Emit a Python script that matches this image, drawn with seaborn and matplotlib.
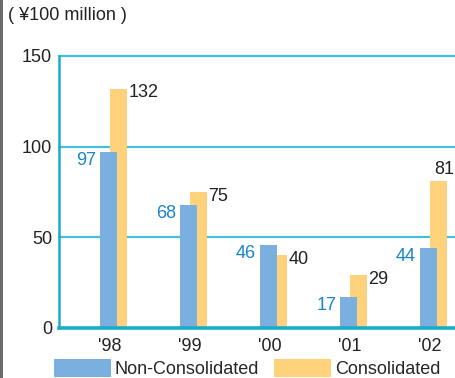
import matplotlib
matplotlib.use("Agg")
import matplotlib.pyplot as plt
from matplotlib.patches import Rectangle, Patch
import seaborn as sns
import pandas as pd
import numpy as np

years = ["'98", "'99", "'00", "'01", "'02"]
non_consolidated = [97, 68, 46, 17, 44]
consolidated = [132, 75, 40, 29, 81]
y_ticks = [0, 50, 100, 150]
unit_label = "( ¥100 million )"

BLUE = "#7aafdf"
ORANGE = "#fed27a"
BLUE_TEXT = "#1a84c8"
GRID = "#45c0da"
SPINE = "#1aacca"
FS = 13

sns.set_theme(style="white")
plt.rcParams["font.family"] = ["Liberation Sans", "DejaVu Sans"]

W, H = 455, 378
fig = plt.figure(figsize=(W / 100, H / 100), dpi=100)
ax = fig.add_axes([59 / W, 50 / H, 1 - 59 / W, (328 - 56) / H])

idx = np.arange(len(years))
bar_w = 0.2125
df_c = pd.DataFrame({"x": idx + 0.106, "v": consolidated})
df_n = pd.DataFrame({"x": idx - 0.019, "v": non_consolidated})

sns.barplot(data=df_c, x="x", y="v", native_scale=True, width=bar_w,
            color=ORANGE, saturation=1, linewidth=0, ax=ax, zorder=2)
sns.barplot(data=df_n, x="x", y="v", native_scale=True, width=bar_w,
            color=BLUE, saturation=1, linewidth=0, ax=ax, zorder=3)

ax.set_xlim(-0.64, 4.31)
ax.set_ylim(0, 150)
ax.set_yticks(y_ticks)
ax.set_xticks(idx)
ax.set_xticklabels(years)
ax.set_xlabel("")
ax.set_ylabel("")
ax.tick_params(axis="both", length=0, labelsize=FS, colors="#222222")
ax.tick_params(axis="x", pad=7)
ax.tick_params(axis="y", pad=5)

for y in y_ticks[1:]:
    ax.axhline(y, color=GRID, lw=1.6, zorder=1, clip_on=False)

for side in ("top", "right"):
    ax.spines[side].set_visible(False)
ax.spines["left"].set_color(SPINE)
ax.spines["left"].set_linewidth(1.8)
ax.spines["bottom"].set_color(SPINE)
ax.spines["bottom"].set_linewidth(2.6)
ax.spines["bottom"].set_zorder(4)

# value labels: non-consolidated on the left, consolidated on the right
for i, v in enumerate(non_consolidated):
    left = i - 0.019 - bar_w / 2
    ax.annotate(str(v), (left, v), xytext=(-3, 0), textcoords="offset points",
                ha="right", va="top", fontsize=FS, color=BLUE_TEXT)
for i, v in enumerate(consolidated):
    right = i + 0.106 + bar_w / 2
    if right + 0.25 > ax.get_xlim()[1]:
        left = i + 0.106 - bar_w / 2
        ax.annotate(str(v), (left, v), xytext=(3, 2), textcoords="offset points",
                    ha="left", va="bottom", fontsize=FS, color="#222222")
    else:
        ax.annotate(str(v), (right, v), xytext=(1, -3), textcoords="offset points",
                    ha="left", va="center", fontsize=FS, color="#222222")

fig.text(8 / W, 1 - 16 / H, unit_label, ha="left", va="center",
         fontsize=FS, color="#222222")

fig.add_artist(Rectangle((0, 0), 2.5 / W, 1, transform=fig.transFigure,
                         color="#6b6b6b", lw=0))

handles = [Patch(facecolor=BLUE, edgecolor="none"),
           Patch(facecolor=ORANGE, edgecolor="none")]
fig.legend(handles, ["Non-Consolidated", "Consolidated"], ncol=2,
           loc="upper left", bbox_to_anchor=(54 / W, 1 - 359 / H),
           frameon=False, fontsize=FS, handlelength=3.15, handleheight=1.15,
           handletextpad=0.22, columnspacing=0.83, borderpad=0,
           borderaxespad=0)

fig.savefig("out.png", dpi=100)
